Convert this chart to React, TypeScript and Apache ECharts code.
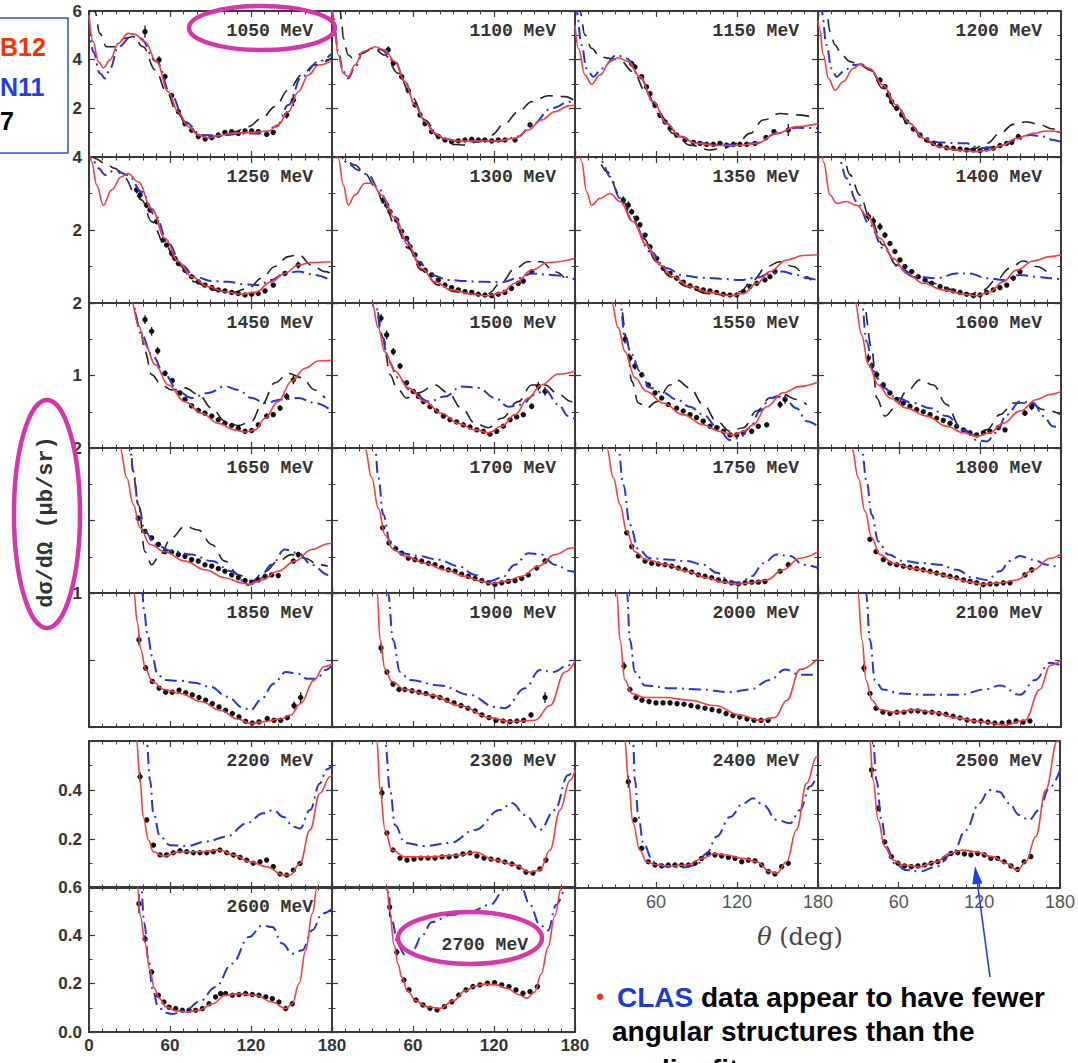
import React, { useEffect, useRef } from 'react';
import * as echarts from 'echarts';

type P = number[][];

// ---------- row 1 (0-6 µb/sr) ----------
const r1050: P = [[0,5.84],[3,4.74],[7,3.92],[10.6,3.67],[15.6,3.99],[21.7,4.67],[29,5.08],[34,5.04],[41.5,4.74],[50,3.92],[58.8,2.68],[66,1.86],[73.6,1.25],[81,0.9],[88,0.79],[96,0.88],[105.7,0.97],[120,1.01],[133,1.07],[140,1.32],[147.7,1.86],[155,2.68],[162.5,3.37],[170,3.78],[180,3.95]];
const b1050: P = [[0,5.49],[3.2,4.33],[8,3.44],[11.9,3.23],[15.6,3.64],[21.7,4.53],[31.6,4.95],[37.8,4.88],[50,3.92],[61,2.55],[71,1.45],[83.5,0.9],[96,0.88],[115.6,0.97],[128,0.97],[139,1.25],[147.7,2.14],[157.5,3.3],[170,3.92],[180,4.25]];
const k1050: P = [[3.5,6.3],[4.4,5.97],[8,5.08],[13,4.53],[19,4.53],[26.7,4.88],[32.8,4.95],[40,4.53],[49,3.58],[57.5,2.68],[65,1.86],[73.6,1.18],[83.5,0.84],[96,0.84],[108,1.04],[118,1.25],[128,1.59],[137.8,2.07],[147.7,2.75],[157.5,3.37],[167,3.78],[180,4.08]];
const d1050: P = [[41.5,5.15,0.25],[51.9,3.99,0.15],[56.3,3.3,0.12],[61.2,2.52,0.1],[66.2,1.86,0.08],[71.1,1.37,0.07],[76,1.1,0.06],[81,0.84,0.05],[86,0.74,0.05],[90.9,0.79,0.05],[95.8,0.9,0.05],[100.7,1.01,0.06],[105.7,1.04,0.06],[110.6,0.97,0.06],[115.6,1.07,0.06],[120.5,1.07,0.07],[125.4,1.04,0.07],[131.6,0.93,0.08],[136.5,1.01,0.1],[146.4,1.73,0.15],[151.4,2.34,0.25]];

const r1100: P = [[0,6.0],[1.5,5.4],[4.7,4.19],[8.4,3.44],[12,3.3],[17,3.78],[23,4.33],[31.9,4.53],[39,4.4],[46.7,3.92],[54,3.1],[61.5,2.14],[69,1.45],[76.3,0.97],[83.7,0.74],[93.6,0.66],[108,0.66],[123,0.66],[135.6,0.77],[145.4,1.11],[155,1.52],[165,1.86],[176,2.11],[180,2.15]];
const b1100: P = [[0,6.1],[1,5.7],[4.7,4.3],[8.4,3.5],[12,3.23],[17,3.7],[23,4.3],[29,4.47],[36,4.42],[46.7,3.92],[54,3.1],[61.5,2.14],[69,1.45],[76.3,0.97],[83.7,0.74],[93.6,0.66],[110,0.64],[125,0.66],[138,0.84],[148,1.32],[162.7,2.0],[176,2.27],[180,2.3]];
const k1100: P = [[6,6.2],[7,5.6],[8.4,4.88],[12,4.19],[15.8,4.05],[22,4.26],[30.6,4.47],[39,4.19],[49,3.44],[59,2.48],[69,1.52],[78.8,0.84],[88.6,0.52],[98.5,0.49],[108,0.63],[118,0.9],[128,1.38],[138,1.86],[148,2.27],[160,2.52],[172.6,2.48],[180,2.3]];
const d1100: P = [[41.7,4.4,0.15],[45.4,3.86,0.12],[51.6,3.3,0.1],[56.5,2.74,0.08],[61.5,2.14,0.07],[65.2,1.73,0.06],[68.9,1.37,0.05],[73.8,1.04,0.05],[78.8,0.84,0.04],[83.7,0.7,0.04],[88.6,0.63,0.04],[93.6,0.66,0.04],[98.5,0.7,0.04],[103.5,0.73,0.04],[108.4,0.7,0.04],[113.3,0.7,0.04],[118.3,0.66,0.04],[123.2,0.7,0.05],[128.1,0.7,0.05],[135.6,0.7,0.06],[146.7,1.32,0.1]];

const r1150: P = [[0,5.42],[2.5,4.47],[7.4,3.37],[12.3,2.99],[18.5,3.37],[26,3.92],[32,4.08],[39.5,3.92],[48,3.3],[58,2.27],[67.9,1.38],[77.8,0.84],[90,0.56],[105,0.47],[119.8,0.47],[134.6,0.56],[149.4,0.97],[164,1.25],[180,1.38]];
const b1150: P = [[0,6.3],[1.2,5.97],[4.9,4.6],[8.6,3.64],[13.6,3.3],[19.8,3.64],[30.9,4.19],[38.3,4.05],[48,3.3],[58,2.27],[67.9,1.38],[77.8,0.84],[90,0.58],[105,0.5],[119.8,0.5],[134.6,0.58],[149.4,0.97],[164,1.2],[180,1.18]];
const k1150: P = [[3,6.3],[3.7,5.97],[7.4,5.01],[12.3,4.47],[18.5,4.12],[26,4.05],[33,3.99],[43,3.51],[53,2.62],[63,1.73],[72.8,0.97],[85,0.49],[100,0.29],[110,0.36],[120,0.56],[129.6,0.97],[139.5,1.52],[151.9,1.79],[164,1.73],[180,1.59]];
const d1150: P = [[42,3.84,0.12],[44.4,3.7,0.12],[49.4,3.3,0.1],[53,2.88,0.08],[55.6,2.6,0.08],[59.3,2.12,0.07],[63,1.71,0.06],[66.7,1.44,0.05],[70.4,1.18,0.05],[75.3,0.9,0.04],[81.5,0.7,0.04],[87.7,0.6,0.04],[92.6,0.56,0.04],[97.5,0.52,0.04],[102.5,0.52,0.04],[107.4,0.56,0.04],[112.3,0.49,0.04],[117.3,0.52,0.04],[122.2,0.52,0.04],[127.2,0.52,0.04],[133.3,0.56,0.05],[141.5,0.8,0.06],[147.4,1.04,0.08],[158,1.11,0.25]];

const r1200: P = [[0,5.6],[1,5.29],[4,4.19],[7.7,3.23],[12.6,2.75],[18.8,3.1],[26,3.64],[31,3.81],[38.5,3.64],[48,2.96],[58,2.14],[68,1.38],[78,0.77],[90,0.42],[102.7,0.29],[117.5,0.22],[127,0.29],[137,0.49],[147,0.77],[159.5,0.97],[169,1.07],[180,1.04]];
const b1200: P = [[1.5,6.3],[2.7,5.97],[6.4,4.6],[10,3.64],[13.8,3.3],[18.8,3.51],[26,3.78],[32,3.81],[38.5,3.58],[48,2.96],[58,2.14],[68,1.38],[78,0.8],[90,0.6],[102,0.57],[110,0.56],[120,0.36],[132,0.42],[147,0.7],[157,0.9],[167,0.84],[174,0.7],[180,0.62]];
const k1200: P = [[5,6.5],[6.4,5.97],[8.9,5.15],[12.6,4.6],[17.5,4.19],[23.7,3.92],[31,3.78],[38.5,3.58],[48,2.82],[58,2.0],[68,1.25],[80.5,0.63],[92.8,0.36],[105,0.29],[115,0.33],[125,0.56],[134.8,0.97],[144.7,1.34],[154.6,1.45],[164.4,1.32],[174,1.15],[180,1.07]];
const d1200: P = [[45.9,3.16,0.12],[49.6,2.89,0.1],[52.1,2.55,0.08],[54.6,2.27,0.08],[58.3,2.0,0.07],[62,1.73,0.06],[65.7,1.45,0.05],[70.6,1.15,0.05],[75.6,0.9,0.04],[80.5,0.7,0.04],[85.4,0.56,0.04],[90.4,0.47,0.04],[95.3,0.38,0.03],[100.2,0.36,0.03],[105.2,0.33,0.03],[110.1,0.29,0.03],[115,0.29,0.03],[120,0.26,0.03],[125,0.33,0.03],[129.9,0.36,0.04],[134.8,0.47,0.04],[139.8,0.56,0.05],[143.5,0.6,0.05],[148.4,0.84,0.08]];

// ---------- row 2 (0-4) ----------
const r1250: P = [[0,4.3],[2,3.87],[5.7,3.23],[10.6,2.68],[16.8,3.1],[24,3.46],[29,3.55],[36.5,3.32],[46.4,2.59],[56.3,1.77],[66.2,1.13],[76,0.72],[88.4,0.45],[100.7,0.31],[113,0.24],[123,0.29],[135,0.58],[145,0.81],[155,1.04],[165,1.11],[180,1.13]];
const b1250: P = [[0,4.3],[2,3.98],[7,3.69],[11.9,3.51],[19,3.64],[29,3.51],[39,3.05],[48.9,2.41],[58.8,1.63],[68.6,1.04],[78.5,0.72],[90.9,0.6],[103,0.58],[115.6,0.51],[125.4,0.49],[135,0.63],[145,0.81],[155,0.86],[167,0.77],[180,0.6]];
const k1250: P = [[3,4.05],[4.4,3.96],[11.9,3.83],[19,3.69],[26.7,3.42],[34,3.0],[39,2.82],[46.4,2.23],[56.3,1.59],[66.2,1.04],[78.5,0.58],[90.9,0.36],[105.7,0.29],[118,0.4],[128,0.68],[137.8,1.0],[147.7,1.27],[155,1.33],[165,1.04],[174.8,0.86],[180,0.8]];
const d1250: P = [[35.3,3.1,0.1],[37.8,2.96,0.1],[42.7,2.68,0.08],[45.2,2.55,0.08],[50.1,2.23,0.07],[55.1,1.73,0.06],[57.5,1.59,0.05],[61.2,1.36,0.05],[63.7,1.22,0.04],[66.2,1.08,0.04],[71.1,0.9,0.03],[76,0.72,0.03],[81,0.58,0.03],[85.9,0.49,0.03],[90.9,0.42,0.03],[95.8,0.36,0.03],[100.7,0.33,0.03],[105.7,0.29,0.03],[110.6,0.26,0.03],[115.6,0.22,0.03],[120.5,0.24,0.03],[125.4,0.26,0.03],[130.4,0.33,0.03],[136.5,0.49,0.04],[145.2,0.81,0.06],[155,1.04,0.1]];

const r1300: P = [[2,4.4],[4.7,3.96],[8.4,3.23],[12,2.68],[17,2.96],[24.4,3.28],[29.4,3.28],[36.8,2.96],[46.7,2.32],[56.5,1.59],[66.4,0.95],[76.3,0.58],[88.6,0.36],[103.5,0.24],[115.8,0.2],[125.7,0.29],[135.6,0.54],[148,0.9],[160,1.11],[180,1.22]];
const b1300: P = [[5,4.3],[7,3.95],[13.3,3.78],[19.5,3.64],[27,3.51],[34.3,3.14],[44,2.5],[54,1.77],[64,1.13],[73.8,0.77],[86,0.63],[98.5,0.6],[113,0.58],[125.7,0.57],[138,0.68],[148,0.81],[162.7,0.77],[180,0.65]];
const k1300: P = [[6,4.3],[8.4,3.95],[17,3.78],[24.4,3.55],[31.9,3.19],[39,2.68],[46.7,2.14],[56.5,1.5],[66.4,0.9],[78.8,0.49],[91,0.31],[106,0.24],[115.8,0.26],[125.7,0.58],[135.6,0.95],[145.4,1.13],[155,1.13],[165,0.86],[172,0.7]];
const d1300: P = [[38,2.82,0.1],[40.5,2.68,0.1],[43,2.5,0.08],[47.9,2.27,0.07],[51.6,1.96,0.06],[55.3,1.77,0.06],[57.8,1.54,0.05],[61.5,1.32,0.05],[65.2,1.08,0.04],[68.9,0.9,0.04],[73.8,0.77,0.03],[78.8,0.63,0.03],[83.7,0.49,0.03],[88.6,0.42,0.03],[93.6,0.36,0.03],[98.5,0.31,0.03],[103.5,0.29,0.03],[108.4,0.24,0.03],[113.3,0.22,0.03],[118.3,0.2,0.03],[123.2,0.24,0.03],[128.1,0.29,0.03],[133,0.4,0.03],[138,0.54,0.04],[141.7,0.6,0.05],[147.9,0.86,0.06]];

const r1350: P = [[3,4.4],[4.9,3.87],[8.6,3.05],[12.3,2.68],[18.5,2.87],[26,3.0],[33.3,2.78],[43,2.23],[53,1.59],[63,1.04],[72.8,0.72],[85,0.45],[100,0.29],[114.8,0.2],[124.7,0.26],[134.6,0.54],[144.4,0.86],[156.8,1.18],[169,1.3],[180,1.32]];
const b1350: P = [[15,4.3],[19.8,3.87],[26,3.46],[33.3,2.87],[43,2.23],[55.6,1.41],[67.9,0.95],[80,0.75],[95,0.69],[110,0.66],[122,0.63],[134.6,0.69],[144.4,0.81],[154,0.86],[164,0.77],[172,0.68],[180,0.62]];
const k1350: P = [[13,4.3],[16,3.96],[23.5,3.6],[33.3,2.96],[40.7,2.5],[50.6,1.77],[60.5,1.13],[70.4,0.72],[82.7,0.45],[97.5,0.26],[112,0.22],[122,0.31],[132,0.63],[142,1.0],[151.9,1.13],[161.7,1.0],[171.6,0.72],[175,0.62]];
const d1350: P = [[35.8,2.82,0.1],[39.5,2.68,0.1],[42,2.5,0.08],[45.7,2.32,0.08],[48.1,2.14,0.07],[51.9,1.86,0.06],[55.6,1.54,0.05],[60.5,1.22,0.05],[65.4,0.95,0.04],[70.4,0.81,0.04],[75.3,0.68,0.03],[80.2,0.57,0.03],[85.2,0.47,0.03],[90.1,0.4,0.03],[95,0.36,0.03],[100,0.33,0.03],[104.9,0.29,0.03],[109.9,0.24,0.03],[114.8,0.22,0.03],[119.8,0.22,0.03],[124.7,0.31,0.03],[129.6,0.45,0.04],[134.6,0.54,0.04],[140.7,0.63,0.05],[144.4,0.72,0.06],[148.1,0.86,0.08]];

const r1400: P = [[2,4.5],[4,3.87],[8.9,2.96],[13.8,2.73],[21,2.78],[28.6,2.68],[36,2.41],[46,1.77],[55.8,1.22],[65.7,0.81],[78,0.54],[92.8,0.36],[107.7,0.24],[117.5,0.2],[127.4,0.31],[137,0.58],[147,0.9],[159.5,1.15],[171.9,1.27],[180,1.32]];
const b1400: P = [[14,4.3],[16.3,3.87],[21,3.42],[28.6,2.78],[38.5,2.14],[48.4,1.5],[60.7,0.95],[73,0.72],[87.9,0.68],[102.7,0.81],[112.6,0.81],[125,0.68],[137,0.63],[149.6,0.77],[162,0.72],[172,0.68],[180,0.65]];
const k1400: P = [[17,4.3],[18.8,3.96],[23.7,3.51],[31,2.96],[38.5,2.32],[48.4,1.59],[58.3,1.04],[70.6,0.72],[85.4,0.54],[100,0.36],[112.6,0.24],[122.5,0.36],[132,0.63],[142,0.95],[152,1.15],[162,1.0],[172,0.77]];
const d1400: P = [[37.3,2.37,0.12],[41,2.25,0.12],[45.9,2.09,0.1],[49.6,1.86,0.08],[53.3,1.63,0.07],[57,1.41,0.06],[60.7,1.18,0.05],[64.4,1.0,0.05],[69.4,0.86,0.04],[74.3,0.72,0.04],[79.3,0.63,0.03],[84.2,0.54,0.03],[90.4,0.45,0.03],[95.3,0.38,0.03],[100.2,0.33,0.03],[105.2,0.29,0.03],[110.1,0.24,0.03],[115.1,0.2,0.03],[120,0.22,0.03],[124.9,0.29,0.03],[129.9,0.36,0.03],[134.8,0.42,0.04],[139.8,0.49,0.04],[144.7,0.68,0.05],[149.6,0.86,0.07]];

// ---------- row 3 (0-2) ----------
const r1450: P = [[30,2.15],[31.6,2.02],[36.5,1.7],[41.5,1.43],[49,1.15],[58.8,0.87],[71,0.64],[83.5,0.48],[95.8,0.34],[108,0.25],[115.6,0.22],[123,0.25],[130.4,0.41],[140,0.64],[150,0.92],[160,1.1],[170,1.2],[180,1.21]];
const b1450: P = [[30,2.15],[31.6,2.02],[39,1.56],[46.4,1.29],[56.3,1.01],[66,0.78],[76,0.69],[88.4,0.76],[100.7,0.85],[110.6,0.8],[120.5,0.69],[130.4,0.62],[142.7,0.67],[155,0.69],[167.4,0.62],[180,0.51]];
const k1450: P = [[30,2.15],[31.6,2.02],[37.8,1.66],[41.5,1.33],[46.4,1.01],[53.8,0.87],[61,0.8],[71,0.83],[81,0.74],[90.9,0.55],[100.7,0.37],[110.6,0.31],[120.5,0.37],[128,0.6],[137.8,0.9],[147.7,1.03],[157.5,0.97],[167.4,0.8],[174.8,0.69]];
const d1450: P = [[41.5,1.77,0.06],[46.4,1.61,0.06],[50.9,1.34,0.05],[56.3,1.03,0.04],[61.7,0.93,0.03],[67.4,0.76,0.03],[71.1,0.67,0.03],[76,0.58,0.02],[81,0.52,0.02],[85.9,0.48,0.02],[90.9,0.44,0.02],[95.8,0.39,0.02],[100.7,0.34,0.02],[105.7,0.31,0.02],[110.6,0.27,0.02],[115.6,0.23,0.02],[120.5,0.24,0.02],[125.4,0.32,0.02],[131.6,0.44,0.03],[136.5,0.46,0.03],[141.5,0.55,0.04],[146.4,0.71,0.05],[151.4,0.94,0.06]];

const r1500: P = [[28,2.15],[29.4,2.02],[34.3,1.66],[39,1.33],[46.7,1.06],[56.5,0.83],[68.9,0.64],[81,0.48],[93.6,0.34],[106,0.25],[115.8,0.21],[125.7,0.3],[135.6,0.46],[145.4,0.69],[155,0.87],[167.7,1.02],[180,1.06]];
const b1500: P = [[30.5,2.15],[31.9,2.02],[36.8,1.56],[41.7,1.2],[49,0.97],[59,0.78],[71.4,0.64],[83.7,0.71],[96,0.85],[108.4,0.83],[120.7,0.69],[130.6,0.57],[140.5,0.6],[150.4,0.74],[157.8,0.8],[167.7,0.6],[175,0.44],[180,0.4]];
const k1500: P = [[30.5,2.15],[31.9,2.02],[38,1.52],[43,1.01],[48,0.83],[55.3,0.69],[64,0.76],[76.3,0.87],[86,0.76],[96,0.55],[106,0.34],[115.8,0.28],[125.7,0.41],[138,0.64],[148,0.87],[157.8,0.87],[167.7,0.74],[177.5,0.64],[180,0.62]];
const d1500: P = [[36.3,1.79,0.06],[40.5,1.56,0.06],[45.4,1.33,0.05],[50.4,1.13,0.04],[55.3,0.9,0.03],[60.2,0.78,0.03],[64,0.71,0.03],[67.7,0.64,0.02],[72.6,0.57,0.02],[77.5,0.51,0.02],[82.5,0.44,0.02],[87.4,0.39,0.02],[92.3,0.36,0.02],[97.3,0.32,0.02],[102.2,0.29,0.02],[107.2,0.25,0.02],[112.1,0.23,0.02],[117,0.19,0.02],[122,0.23,0.02],[126.9,0.3,0.02],[131.9,0.39,0.03],[136.8,0.43,0.03],[141.7,0.46,0.03],[147.9,0.575,0.04],[152.8,0.85,0.06],[157.8,0.78,0.06]];

const r1550: P = [[25.5,2.15],[27,2.02],[32,1.66],[37,1.33],[44.4,0.97],[53,0.78],[65.4,0.62],[80,0.46],[95,0.32],[107.4,0.23],[117.3,0.18],[124.7,0.23],[132,0.32],[142,0.57],[154,0.76],[166.7,0.85],[180,0.91]];
const b1550: P = [[32,2.15],[33.3,2.02],[37,1.52],[41.9,1.29],[48,1.06],[55.6,0.83],[65.4,0.76],[75.3,0.67],[85,0.57],[95,0.46],[104.9,0.3],[114.8,0.11],[122,0.14],[129.6,0.28],[137,0.51],[144.4,0.69],[154,0.71],[164,0.55],[171.6,0.37],[180,0.3]];
const k1550: P = [[32,2.15],[33.3,2.02],[38.3,1.52],[42,0.92],[47,0.62],[53,0.55],[60.5,0.64],[70.4,0.87],[75.3,0.94],[85,0.83],[95,0.6],[105,0.37],[114.8,0.23],[124.7,0.28],[134.6,0.51],[144.4,0.69],[154,0.74],[164,0.67],[171.6,0.6]];
const d1550: P = [[37,1.5,0.06],[40.7,1.24,0.05],[44.4,1.13,0.05],[49.4,1.01,0.04],[54.3,0.87,0.03],[59.3,0.76,0.03],[64.2,0.69,0.03],[69.1,0.6,0.02],[75.3,0.55,0.02],[80.2,0.51,0.02],[85.2,0.46,0.02],[90,0.42,0.02],[95,0.37,0.02],[100,0.3,0.02],[105,0.28,0.02],[110,0.23,0.02],[114.8,0.18,0.02],[119.8,0.18,0.02],[124.7,0.21,0.02],[130.9,0.23,0.02],[135.8,0.3,0.03],[142,0.32,0.03],[151.9,0.6,0.05],[155.6,0.67,0.06]];

const r1600: P = [[26,2.15],[27.4,2.02],[32.3,1.56],[37.3,1.15],[44.7,0.87],[53.3,0.69],[65.7,0.55],[80.5,0.44],[95.3,0.3],[107.7,0.21],[117.5,0.16],[127.4,0.21],[137,0.34],[149.6,0.51],[162,0.67],[171.9,0.74],[180,0.78]];
const b1600: P = [[31,2.15],[32.3,2.02],[36,1.47],[41,1.06],[48.4,0.83],[58.3,0.69],[70.6,0.62],[83,0.55],[95.3,0.44],[107.7,0.25],[117.5,0.11],[125,0.09],[132,0.21],[139.8,0.46],[149.6,0.64],[159.5,0.62],[167,0.44],[174,0.3],[180,0.25]];
const k1600: P = [[32,2.15],[33.6,2.02],[39.8,1.38],[43.5,0.69],[49.6,0.44],[57,0.55],[65.7,0.78],[75.6,0.94],[85.4,0.87],[95.3,0.6],[105,0.3],[115,0.18],[125,0.25],[134.8,0.46],[144.7,0.62],[157,0.62],[167,0.53],[180,0.46]];
const d1600: P = [[37.3,1.24,0.06],[39.8,1.13,0.05],[43.5,1.01,0.05],[48.4,0.87,0.04],[53.3,0.76,0.03],[58.3,0.67,0.03],[63.2,0.62,0.03],[68.1,0.575,0.02],[73.1,0.53,0.02],[78,0.5,0.02],[83,0.46,0.02],[87.9,0.41,0.02],[92.8,0.38,0.02],[97.8,0.34,0.02],[102.7,0.3,0.02],[107.7,0.25,0.02],[112.6,0.21,0.02],[117.5,0.18,0.02],[122.5,0.21,0.02],[127.4,0.23,0.02],[133.6,0.28,0.02],[138.5,0.25,0.02],[153.3,0.48,0.04],[158.3,0.57,0.05]];

// ---------- row 4 (0-2) ----------
const r1650: P = [[22,2.15],[23,2.0],[28,1.59],[32.8,1.22],[37.8,0.9],[45.2,0.67],[56.3,0.57],[71,0.44],[86,0.32],[100.7,0.21],[113,0.14],[119,0.12],[128,0.18],[140,0.3],[152.6,0.44],[165,0.6],[177,0.68],[180,0.69]];
const b1650: P = [[29.5,2.15],[30.4,2.0],[32.8,1.68],[36.5,1.22],[41.5,0.85],[48.9,0.67],[61,0.58],[76,0.53],[90.9,0.44],[105.7,0.3],[118,0.11],[125.4,0.18],[135.3,0.39],[145,0.6],[155,0.55],[165,0.39],[177,0.25],[180,0.24]];
const k1650: P = [[31,2.15],[32.8,1.63],[36.5,1.22],[41.5,0.57],[46.4,0.39],[52.6,0.53],[61,0.76],[71,0.92],[81,0.87],[90.9,0.67],[100.7,0.44],[110.6,0.25],[120.5,0.16],[130.4,0.3],[140,0.44],[150,0.53],[160,0.48],[170,0.39],[177,0.37]];
const d1650: P = [[36.5,1.03,0.04],[41.5,0.85,0.03],[46.4,0.76,0.03],[51.4,0.67,0.02],[56.3,0.57,0.02],[61.2,0.566,0.02],[66.2,0.53,0.02],[71.1,0.506,0.02],[76,0.46,0.02],[81,0.44,0.02],[85.9,0.39,0.02],[90.9,0.37,0.02],[95.8,0.336,0.02],[100.7,0.3,0.02],[105.7,0.25,0.02],[110.6,0.21,0.02],[115.6,0.17,0.02],[120.5,0.15,0.02],[125.4,0.18,0.02],[130.4,0.23,0.02],[135.3,0.25,0.02],[140.2,0.24,0.02],[151.4,0.44,0.03],[155,0.53,0.04]];

const r1700: P = [[23.5,2.15],[24.4,2.0],[29.4,1.59],[34.3,1.17],[39.3,0.8],[45.4,0.6],[54,0.51],[68.9,0.41],[83.7,0.32],[98.5,0.23],[110.9,0.16],[118.3,0.13],[128,0.16],[140.5,0.23],[152.8,0.37],[165,0.53],[177.5,0.62],[180,0.63]];
const b1700: P = [[31.5,2.15],[31.9,2.0],[34.3,1.59],[38,1.08],[43,0.71],[51.6,0.55],[64,0.51],[78.8,0.46],[93.6,0.37],[105.9,0.25],[115.8,0.16],[125.7,0.21],[135.6,0.39],[145.4,0.55],[155,0.53],[165,0.39],[177.5,0.3],[180,0.29]];
const d1700: P = [[37.5,0.9,0.03],[42.2,0.69,0.03],[47.2,0.61,0.02],[51.6,0.55,0.02],[56.5,0.48,0.02],[61.5,0.46,0.02],[66.4,0.44,0.02],[71.4,0.41,0.02],[76.3,0.39,0.02],[81.2,0.35,0.02],[86.2,0.32,0.02],[91.1,0.3,0.02],[96,0.26,0.02],[101,0.23,0.02],[105.9,0.2,0.02],[110.9,0.17,0.02],[115.8,0.14,0.02],[120.7,0.12,0.02],[125.7,0.14,0.02],[130.6,0.16,0.02],[135.6,0.17,0.02],[140.5,0.2,0.02],[145.4,0.25,0.02],[151.6,0.345,0.03],[157.8,0.44,0.04]];

const r1750: P = [[22.5,2.15],[23.5,2.0],[28.4,1.59],[33.3,1.22],[38.3,0.85],[44.4,0.57],[53,0.46],[67.9,0.39],[82.7,0.3],[97.5,0.21],[110,0.15],[119.8,0.12],[129.6,0.14],[142,0.18],[154,0.32],[166.7,0.48],[180,0.57]];
const b1750: P = [[31.5,2.15],[32,2.0],[35.8,1.49],[40.7,0.94],[47,0.6],[55.6,0.48],[70.4,0.46],[82.7,0.44],[95,0.39],[105,0.28],[114.8,0.16],[122,0.14],[130.9,0.23],[139.5,0.41],[149.4,0.53],[159.5,0.51],[169,0.39],[180,0.345]];
const d1750: P = [[38.3,0.83,0.03],[42,0.64,0.03],[46.9,0.51,0.02],[51.9,0.44,0.02],[56.8,0.41,0.02],[61.7,0.4,0.02],[66.7,0.39,0.02],[71.6,0.37,0.02],[76.5,0.345,0.02],[81.5,0.32,0.02],[86.4,0.29,0.02],[91.4,0.25,0.02],[96.3,0.23,0.02],[101.2,0.21,0.02],[106.2,0.18,0.02],[111.1,0.16,0.02],[116,0.14,0.02],[121,0.124,0.02],[126,0.14,0.02],[130.9,0.15,0.02],[135.8,0.15,0.02],[140.7,0.16,0.02],[151.9,0.3,0.03],[158,0.39,0.04]];

const r1800: P = [[24,2.15],[25,2.0],[29.9,1.59],[34.8,1.13],[39.8,0.76],[45.9,0.53],[55.8,0.41],[70.6,0.34],[85.4,0.28],[100.2,0.21],[112.6,0.15],[122.5,0.12],[134.8,0.14],[147,0.18],[159.5,0.32],[171.9,0.48],[180,0.54]];
const b1800: P = [[31.5,2.15],[32.3,2.0],[36,1.54],[39.8,1.08],[44.7,0.71],[52,0.53],[63.2,0.44],[78,0.41],[90.4,0.39],[102.7,0.32],[115,0.21],[125,0.18],[134.8,0.3],[142,0.44],[149.6,0.51],[159.5,0.46],[169.4,0.39],[174,0.37],[180,0.36]];
const d1800: P = [[38.5,0.74,0.03],[43,0.57,0.03],[48.4,0.46,0.02],[53.3,0.41,0.02],[58.3,0.39,0.02],[63.2,0.37,0.02],[68.1,0.354,0.02],[73.1,0.336,0.02],[78,0.32,0.02],[83,0.3,0.02],[87.9,0.276,0.02],[92.8,0.25,0.02],[97.8,0.23,0.02],[102.7,0.21,0.02],[107.7,0.18,0.02],[112.6,0.16,0.02],[117.5,0.14,0.02],[122.5,0.115,0.02],[127.4,0.124,0.02],[132.3,0.124,0.02],[137.3,0.14,0.02],[142.2,0.14,0.02],[153.3,0.25,0.03],[158.3,0.32,0.04]];

// ---------- row 5 (0-1) ----------
const r1850: P = [[32,1.2],[33.3,1.0],[35.8,0.78],[38.3,0.58],[42,0.43],[46.9,0.34],[55.6,0.28],[67.9,0.25],[82.7,0.19],[97.5,0.125],[110,0.06],[119.8,0.025],[129.6,0.04],[142,0.06],[149.4,0.09],[156.8,0.175],[166.7,0.35],[174,0.45],[180,0.47]];
const b1850: P = [[38.5,1.2],[39.5,1.0],[40.7,0.875],[43.2,0.7],[46.9,0.525],[50.6,0.4],[55.6,0.35],[67.9,0.345],[77.8,0.33],[90,0.3],[102.5,0.225],[114.8,0.14],[119.8,0.125],[127,0.2],[137,0.325],[145.7,0.41],[154.3,0.4],[161.7,0.36],[169,0.36],[175,0.425],[180,0.46]];
const d1850: P = [[37,0.65,0.04],[42,0.44,0.02],[46.9,0.34,0.015],[51.9,0.29,0.015],[56.8,0.26,0.015],[61.7,0.26,0.015],[66.7,0.275,0.015],[71.6,0.255,0.015],[76.5,0.24,0.015],[81.5,0.22,0.015],[86.4,0.2,0.015],[91.4,0.175,0.015],[96.3,0.15,0.015],[101.2,0.125,0.015],[106.2,0.1,0.015],[111.1,0.075,0.015],[116,0.043,0.015],[121,0.03,0.015],[125.9,0.038,0.015],[132,0.063,0.015],[137,0.05,0.015],[142,0.05,0.015],[146.9,0.07,0.02],[151.9,0.16,0.03],[156.8,0.22,0.04]];

const r1900: P = [[32.5,1.2],[33.5,1.0],[35.6,0.65],[39.3,0.43],[44.4,0.34],[54,0.28],[72.6,0.24],[94.8,0.16],[117,0.07],[131.9,0.04],[150.4,0.05],[161.5,0.16],[172.6,0.41],[180,0.49]];
const b1900: P = [[41,1.2],[41.5,1.0],[45.2,0.65],[50.4,0.41],[57.8,0.35],[80,0.31],[102,0.24],[120.7,0.15],[128,0.14],[143,0.29],[154,0.425],[163.7,0.41],[175,0.46],[180,0.5]];
const d1900: P = [[36.3,0.59,0.04],[40.7,0.41,0.02],[45.2,0.32,0.015],[49.6,0.28,0.015],[54,0.28,0.015],[59.3,0.27,0.015],[64.4,0.26,0.015],[69.6,0.25,0.015],[74.8,0.23,0.015],[80,0.22,0.015],[85.2,0.2,0.015],[90.4,0.18,0.015],[95.6,0.16,0.015],[100.7,0.14,0.015],[106,0.12,0.015],[111,0.09,0.015],[116.3,0.07,0.015],[121.5,0.05,0.015],[126.7,0.045,0.015],[131.9,0.04,0.015],[137,0.045,0.015],[142,0.05,0.015],[147.4,0.09,0.02],[157.8,0.22,0.04]];

const r2000: P = [[30,1.2],[31,1.0],[33.3,0.65],[37,0.35],[42,0.25],[51.9,0.22],[66.7,0.22],[85,0.2],[103.7,0.16],[122,0.09],[137,0.05],[148,0.07],[157,0.2],[166.7,0.43],[180,0.51]];
const b2000: P = [[38,1.2],[38.5,1.0],[40.7,0.65],[44.4,0.41],[51.9,0.31],[70.4,0.29],[92.6,0.28],[114.8,0.26],[129.6,0.28],[144.4,0.35],[155.6,0.43],[166.7,0.39],[177.8,0.39],[180,0.4]];
const d2000: P = [[36.3,0.455,0.03],[40.7,0.28,0.015],[45.2,0.22,0.015],[49.6,0.2,0.015],[54.8,0.19,0.015],[60,0.18,0.015],[65.2,0.18,0.015],[70.4,0.18,0.015],[75.6,0.175,0.015],[80.7,0.17,0.015],[85.9,0.16,0.015],[91,0.15,0.015],[96.3,0.14,0.015],[101.5,0.13,0.015],[106.7,0.12,0.015],[111.9,0.1,0.015],[117,0.085,0.015],[122,0.075,0.015],[127.4,0.06,0.015],[132.6,0.05,0.015],[137.8,0.05,0.015],[143,0.05,0.015]];

const r2100: P = [[29,1.2],[29.6,1.0],[32.6,0.65],[35.6,0.35],[40,0.2],[45.9,0.13],[57,0.11],[71.9,0.13],[86.7,0.11],[101.5,0.07],[120,0.04],[138.5,0.015],[153.3,0.05],[164.4,0.28],[171.9,0.46],[180,0.5]];
const b2100: P = [[35,1.2],[35.6,1.0],[38.5,0.65],[42.2,0.35],[48,0.28],[60.7,0.25],[82.9,0.24],[105,0.24],[123.7,0.28],[134.8,0.31],[149.6,0.24],[160.7,0.35],[171.9,0.48],[180,0.46]];
const d2100: P = [[34,0.44,0.03],[38.5,0.25,0.015],[43,0.14,0.01],[48.1,0.11,0.01],[53.3,0.1,0.01],[58.5,0.11,0.01],[63.7,0.11,0.01],[68.9,0.12,0.01],[74,0.12,0.01],[79.3,0.11,0.01],[84.4,0.11,0.01],[89.6,0.1,0.01],[94.8,0.095,0.01],[100,0.08,0.01],[105.2,0.067,0.01],[110.4,0.052,0.01],[115.6,0.045,0.01],[120.7,0.045,0.01],[125.9,0.037,0.01],[131,0.03,0.01],[136.3,0.03,0.01],[141.5,0.037,0.01],[146.7,0.045,0.01],[151.9,0.037,0.01],[157,0.045,0.01]];

// ---------- rows 6-7 (0-0.6) ----------
const r2200: P = [[34.5,0.75],[35.3,0.6],[37.8,0.44],[40.2,0.29],[44,0.196],[47.7,0.148],[55,0.13],[67.4,0.148],[82.2,0.148],[97,0.155],[107,0.135],[119.3,0.107],[131.6,0.087],[144,0.053],[149,0.053],[156.3,0.1],[163.7,0.237],[171,0.386],[178.5,0.454],[180,0.46]];
const b2200: P = [[42,0.75],[42.7,0.6],[45.2,0.44],[47.7,0.305],[52.6,0.21],[60,0.175],[72.3,0.171],[87.2,0.19],[102,0.21],[116.8,0.264],[129,0.305],[136.5,0.318],[144,0.29],[151.4,0.25],[156.3,0.243],[163.7,0.318],[171,0.427],[176,0.484],[180,0.5]];
const d2200: P = [[37.8,0.454,0.02],[42.7,0.278,0.01],[47.7,0.175,0.008],[52.6,0.135,0.006],[57.5,0.135,0.006],[62.5,0.144,0.006],[67.4,0.152,0.006],[72.3,0.148,0.006],[77.3,0.144,0.006],[82.2,0.144,0.006],[87.2,0.144,0.006],[92.1,0.148,0.006],[97,0.155,0.006],[102,0.144,0.006],[107,0.135,0.006],[111.9,0.125,0.006],[116.8,0.114,0.006],[121.7,0.101,0.006],[126.7,0.107,0.006],[131.6,0.114,0.006],[136.5,0.087,0.006],[141.5,0.057,0.006],[146.4,0.053,0.006],[151.4,0.073,0.008],[156.3,0.1,0.01]];

const r2300: P = [[32.5,0.75],[33.3,0.6],[35.6,0.4],[39.3,0.237],[44.4,0.155],[54,0.127],[72.6,0.127],[94.8,0.135],[106,0.147],[120.7,0.114],[135.6,0.094],[146.7,0.065],[154,0.073],[161.5,0.155],[168.9,0.318],[176.3,0.44],[180,0.48]];
const b2300: P = [[38.5,0.75],[39.3,0.6],[43,0.4],[46.7,0.257],[54,0.184],[68.9,0.171],[87.4,0.184],[106,0.237],[124.4,0.318],[133.3,0.347],[143,0.298],[154,0.237],[165,0.318],[174.8,0.46],[180,0.49]];
const d2300: P = [[37,0.388,0.025],[40.7,0.224,0.01],[45.2,0.155,0.008],[50.4,0.122,0.006],[55.6,0.114,0.006],[60.7,0.118,0.006],[65.9,0.122,0.006],[71.1,0.122,0.006],[76.3,0.122,0.006],[81.5,0.127,0.006],[86.7,0.127,0.006],[91.9,0.131,0.006],[97,0.139,0.006],[102.2,0.143,0.006],[107.4,0.131,0.006],[112.6,0.122,0.006],[117.8,0.118,0.006],[123,0.114,0.006],[128.1,0.106,0.006],[133.3,0.098,0.006],[138.5,0.085,0.006],[143.7,0.065,0.006],[148.9,0.061,0.006],[154,0.078,0.008],[158.5,0.114,0.01]];

const r2400: P = [[36,0.75],[37,0.6],[39.5,0.44],[43,0.264],[48,0.155],[53,0.107],[60.5,0.094],[70.4,0.09],[82.7,0.094],[95,0.121],[102.5,0.141],[112,0.135],[124.7,0.121],[134.6,0.107],[144.4,0.067],[149.4,0.06],[156.8,0.107],[164,0.237],[171.6,0.427],[179,0.536],[180,0.54]];
const b2400: P = [[42.3,0.75],[43,0.6],[44.4,0.44],[47,0.29],[50.6,0.182],[58,0.107],[67.9,0.087],[80.2,0.084],[90,0.094],[97.5,0.141],[105,0.21],[114.8,0.29],[124.7,0.346],[132,0.366],[139.5,0.339],[149.4,0.278],[159.3,0.264],[166.7,0.318],[174,0.414],[180,0.468]];
const d2400: P = [[39.5,0.434,0.025],[44.4,0.278,0.01],[49.4,0.162,0.008],[54.3,0.107,0.006],[59.3,0.094,0.006],[64.2,0.09,0.006],[69.1,0.094,0.006],[74,0.094,0.006],[79,0.094,0.006],[84,0.094,0.006],[88.9,0.101,0.006],[93.8,0.121,0.006],[98.8,0.139,0.006],[103.7,0.135,0.006],[108.6,0.131,0.006],[113.6,0.125,0.006],[118.5,0.121,0.006],[123.5,0.107,0.006],[128.4,0.114,0.006],[133.3,0.111,0.006],[138.3,0.094,0.006],[143.2,0.067,0.006],[148.1,0.057,0.006],[153.1,0.087,0.008],[158,0.101,0.01]];

const r2500: P = [[37.5,0.75],[38.5,0.6],[41,0.44],[44.7,0.278],[49.6,0.169],[55.8,0.114],[63.2,0.094],[75.6,0.087],[87.9,0.107],[97.8,0.141],[107.7,0.155],[117.5,0.148],[129.9,0.128],[139.8,0.101],[148.4,0.073],[154.6,0.107],[162,0.21],[169.4,0.4],[178,0.6],[180,0.65]];
const b2500: P = [[40,0.75],[41,0.6],[43.5,0.44],[47.2,0.278],[50.9,0.169],[57,0.101],[65.7,0.073],[75.6,0.067],[87.9,0.087],[100.2,0.141],[110,0.237],[120,0.346],[127.4,0.4],[134.8,0.393],[142.2,0.346],[149.6,0.298],[157,0.278],[164.4,0.318],[171.9,0.407],[180,0.48]];
const d2500: P = [[39.8,0.482,0.03],[44.7,0.325,0.012],[49.6,0.188,0.008],[54.6,0.128,0.006],[59.5,0.101,0.006],[64.4,0.09,0.006],[69.4,0.087,0.006],[74.3,0.09,0.006],[79.3,0.094,0.006],[84.2,0.101,0.006],[89.1,0.107,0.006],[94,0.121,0.006],[99,0.141,0.006],[103.9,0.144,0.006],[108.9,0.139,0.006],[113.8,0.135,0.006],[118.8,0.141,0.006],[123.7,0.135,0.006],[128.6,0.121,0.006],[133.6,0.121,0.006],[138.5,0.107,0.006],[143.5,0.09,0.006],[148.4,0.076,0.006],[153.3,0.107,0.008],[158.3,0.128,0.01]];

const r2600: P = [[35,0.75],[36,0.6],[38,0.48],[41.5,0.37],[45,0.26],[48.5,0.18],[52,0.14],[57,0.105],[64,0.088],[72,0.083],[81.5,0.09],[91.4,0.117],[101.2,0.152],[111,0.159],[123.5,0.152],[135.8,0.124],[145.7,0.097],[150.6,0.117],[155.6,0.2],[160.5,0.338],[165.4,0.49],[169,0.6],[171,0.68]];
const b2600: P = [[37.5,0.75],[38.5,0.6],[41,0.45],[44,0.3],[47,0.18],[51,0.11],[56,0.08],[62,0.075],[71.6,0.09],[81.5,0.124],[93.8,0.186],[106,0.283],[118.5,0.393],[128.4,0.441],[135.8,0.434],[143.2,0.366],[150.6,0.324],[158,0.338],[165.4,0.421],[172.8,0.49],[180,0.51]];
const d2600: P = [[37,0.531,0.04],[41.5,0.386,0.015],[46.4,0.248,0.01],[51.4,0.152,0.008],[55.5,0.124,0.006],[59.3,0.103,0.006],[64.2,0.097,0.006],[69.1,0.09,0.006],[74.1,0.09,0.006],[79,0.09,0.006],[84,0.097,0.006],[88.9,0.117,0.006],[93.8,0.145,0.006],[97.5,0.159,0.006],[101.2,0.159,0.006],[106.2,0.152,0.006],[111.1,0.155,0.006],[116,0.159,0.006],[121,0.155,0.006],[125.9,0.152,0.006],[130.9,0.145,0.006],[135.8,0.138,0.006],[140.7,0.124,0.006],[145.7,0.097,0.008],[150.6,0.117,0.01]];

const r2700: P = [[39.5,0.75],[40.7,0.6],[42.7,0.5],[46,0.36],[49,0.28],[51.6,0.228],[56,0.17],[62,0.13],[70,0.105],[80,0.098],[90,0.13],[98.5,0.17],[106,0.19],[113,0.198],[121,0.196],[130,0.18],[138,0.155],[144.4,0.14],[150,0.165],[155,0.24],[160,0.35],[165,0.48],[170,0.6],[172,0.66]];
const b2700: P = [[40,0.75],[40.7,0.6],[44.4,0.46],[48.9,0.36],[54,0.32],[60,0.34],[66.7,0.4],[74,0.455],[87.4,0.484],[102,0.497],[117,0.526],[128,0.59],[133.3,0.62],[139,0.62],[146.7,0.526],[154,0.443],[160,0.42],[166,0.526],[172.6,0.61]];
const d2700: P = [[42.7,0.517,0.04],[48,0.33,0.015],[53.3,0.215,0.01],[57,0.174,0.008],[62.2,0.132,0.006],[67.4,0.112,0.006],[72.6,0.098,0.006],[77.8,0.091,0.006],[83.3,0.105,0.006],[88.7,0.125,0.006],[93.9,0.153,0.006],[99.3,0.174,0.006],[104.4,0.188,0.006],[109.6,0.195,0.006],[115.1,0.202,0.006],[120.4,0.204,0.006],[125.7,0.195,0.006],[131.1,0.188,0.006],[136.3,0.174,0.006],[141.5,0.16,0.008],[146.7,0.167,0.008],[152.2,0.188,0.01]];

// ---------- panel tables ----------
const ENERGIES = ['1050','1100','1150','1200','1250','1300','1350','1400','1450','1500','1550','1600','1650','1700','1750','1800','1850','1900','2000','2100','2200','2300','2400','2500','2600','2700'];
const RED = [r1050,r1100,r1150,r1200,r1250,r1300,r1350,r1400,r1450,r1500,r1550,r1600,r1650,r1700,r1750,r1800,r1850,r1900,r2000,r2100,r2200,r2300,r2400,r2500,r2600,r2700];
const BLUE = [b1050,b1100,b1150,b1200,b1250,b1300,b1350,b1400,b1450,b1500,b1550,b1600,b1650,b1700,b1750,b1800,b1850,b1900,b2000,b2100,b2200,b2300,b2400,b2500,b2600,b2700];
const BLACK: (P | null)[] = [k1050,k1100,k1150,k1200,k1250,k1300,k1350,k1400,k1450,k1500,k1550,k1600,k1650];
const POINTS = [d1050,d1100,d1150,d1200,d1250,d1300,d1350,d1400,d1450,d1500,d1550,d1600,d1650,d1700,d1750,d1800,d1850,d1900,d2000,d2100,d2200,d2300,d2400,d2500,d2600,d2700];

const ROW_MAX = [6, 4, 2, 2, 1, 0.6, 0.6];
const ROW_STEP = [2, 2, 1, 1, 0.5, 0.2, 0.2];
const ROW_MINOR = [2, 2, 2, 2, 0, 2, 2];
const Y_LABELS = [['6','4','2'], ['4','2'], ['2','1'], ['2'], ['1'], ['0.4','0.2'], ['0.6','0.4','0.2','0.0']];
const X_LABELS: Record<number, string[]> = { 22: ['60','120','180'], 23: ['60','120','180'], 24: ['0','60','120','180'], 25: ['60','120','180'] };

// layout (pixels)
const COL_X = [89, 332, 575, 818];
const PW = 243;
const ROW_Y = [11, 157, 303, 448, 593, 741, 887];
const ROW_H = [146, 146, 145, 145, 134, 147, 145];

const AX = '#3a3a3a';
const MID = { align: 'left', verticalAlign: 'middle', textAlign: 'left', textVerticalAlign: 'middle' };
const CEN = { align: 'center', verticalAlign: 'middle', textAlign: 'center', textVerticalAlign: 'middle' };

function buildOption() {
  const grid: any[] = [];
  const xAxis: any[] = [];
  const yAxis: any[] = [];
  const series: any[] = [];
  const graphic: any[] = [];

  ENERGIES.forEach((e, i) => {
    const row = Math.floor(i / 4);
    const col = i % 4;
    grid.push({ left: COL_X[col], top: ROW_Y[row], width: PW, height: ROW_H[row], show: false });
    const axisLine = { show: true, onZero: false, lineStyle: { color: AX, width: 2 } };
    const tick = { show: true, inside: true, length: 6, lineStyle: { color: AX, width: 1.2 } };
    const xl = X_LABELS[i];
    const bold = i >= 24;
    const xBase = {
      type: 'value', gridIndex: i, min: 0, max: 180, interval: 60,
      axisLine, axisTick: tick,
      minorTick: { show: true, splitNumber: 6, length: 3.5, lineStyle: { color: AX, width: 1 } },
      splitLine: { show: false }, minorSplitLine: { show: false },
    };
    xAxis.push({
      ...xBase, position: 'bottom',
      axisLabel: xl ? {
        show: true, margin: 5, color: bold ? '#333' : '#555', fontSize: bold ? 17 : 18,
        fontWeight: bold ? 'bold' : 'normal', fontFamily: 'Liberation Sans',
        formatter: (v: number) => { const s = String(Math.round(v)); return xl.includes(s) ? s : ''; },
      } : { show: false },
    });
    xAxis.push({ ...xBase, position: 'top', axisLabel: { show: false } });

    const lbls = Y_LABELS[row];
    const yBase = {
      type: 'value', gridIndex: i, min: 0, max: ROW_MAX[row], interval: ROW_STEP[row],
      axisLine, axisTick: tick,
      minorTick: { show: ROW_MINOR[row] > 0, splitNumber: ROW_MINOR[row] || 1, length: 3.5, lineStyle: { color: AX, width: 1 } },
      splitLine: { show: false }, minorSplitLine: { show: false },
    };
    yAxis.push({
      ...yBase, position: 'left',
      axisLabel: col === 0 ? {
        show: true, margin: 7, color: '#333', fontSize: 17, fontWeight: 'bold', fontFamily: 'Liberation Sans',
        formatter: (v: number) => {
          const s = row >= 5 ? v.toFixed(1) : String(Math.round(v * 1000) / 1000);
          return lbls.includes(s) ? s : '';
        },
      } : { show: false },
    });
    yAxis.push({ ...yBase, position: 'right', axisLabel: { show: false } });

    const xi = 2 * i;
    const k = BLACK[i];
    if (k) {
      series.push({
        type: 'line', xAxisIndex: xi, yAxisIndex: xi, data: k, smooth: 0.4, smoothMonotone: 'x',
        symbol: 'none', silent: true, clip: true,
        lineStyle: { color: '#222', width: 1.6, type: [13, 8] },
      });
    }
    series.push({
      type: 'line', xAxisIndex: xi, yAxisIndex: xi, data: BLUE[i], smooth: 0.4, smoothMonotone: 'x',
      symbol: 'none', silent: true, clip: true,
      lineStyle: { color: '#2236e0', width: 2, type: [12, 5, 2, 5] },
    });
    series.push({
      type: 'line', xAxisIndex: xi, yAxisIndex: xi, data: RED[i], smooth: 0.4, smoothMonotone: 'x',
      symbol: 'none', silent: true, clip: true,
      lineStyle: { color: '#ff3a3a', width: 1.6 },
    });
    series.push({
      type: 'custom', coordinateSystem: 'cartesian2d', xAxisIndex: xi, yAxisIndex: xi,
      data: POINTS[i], encode: { x: 0, y: 1 }, silent: true,
      renderItem: (_p: any, api: any) => {
        const x = api.value(0), y = api.value(1), er = api.value(2);
        const c = api.coord([x, y]);
        const t = api.coord([x, y + er]);
        const b = api.coord([x, y - er]);
        return {
          type: 'group',
          children: [
            { type: 'line', shape: { x1: c[0], y1: t[1], x2: c[0], y2: b[1] }, style: { stroke: '#111', lineWidth: 1.3 } },
            { type: 'circle', shape: { cx: c[0], cy: c[1], r: 2.7 }, style: { fill: '#111' } },
          ],
        };
      },
    });

    // energy label
    const lx = i === 25 ? 528 : COL_X[col] + PW - 19;
    const ly = i === 25 ? 945 : ROW_Y[row] + 20;
    graphic.push({
      type: 'text', x: lx, y: ly, z: 60,
      style: { text: `${e} MeV`, font: 'bold 18px "Liberation Mono"', fill: '#333', align: 'right', verticalAlign: 'middle', textAlign: 'right', textVerticalAlign: 'middle' },
    });
  });

  const mag = '#d636aa';
  graphic.push(
    // legend box (cropped at the left edge)
    { type: 'rect', z: 50, shape: { x: -2, y: 18, width: 70, height: 135 }, style: { fill: '#fff', stroke: '#2a55d8', lineWidth: 1.5 } },
    { type: 'text', z: 51, x: 0, y: 47, style: { text: 'B12', font: 'bold 25px "Liberation Sans"', fill: '#ff3000', ...MID } },
    { type: 'text', z: 51, x: 0, y: 87, style: { text: 'N11', font: 'bold 25px "Liberation Sans"', fill: '#1f3fe6', ...MID } },
    { type: 'text', z: 51, x: 0, y: 121, style: { text: '7', font: 'bold 25px "Liberation Sans"', fill: '#000', ...MID } },
    // y axis title
    { type: 'text', z: 51, x: 46, y: 522, rotation: Math.PI / 2, style: { text: 'dσ/dΩ (μb/sr)', font: 'bold 22px "Liberation Mono"', fill: '#333', ...CEN } },
    // x axis title
    {
      type: 'text', z: 51, x: 800, y: 937,
      style: {
        text: '{i|θ} (deg)', font: '24px "DejaVu Serif"', fill: '#444', ...CEN,
        rich: { i: { fontStyle: 'italic', fontSize: 24, fontFamily: 'DejaVu Serif', fill: '#444' } },
      },
    },
    // ellipses
    { type: 'ellipse', z: 70, shape: { cx: 262, cy: 28, rx: 73, ry: 22 }, style: { fill: 'none', stroke: mag, lineWidth: 4.5 } },
    { type: 'ellipse', z: 70, shape: { cx: 47, cy: 514, rx: 33, ry: 114 }, style: { fill: 'none', stroke: mag, lineWidth: 4.5 } },
    { type: 'ellipse', z: 70, shape: { cx: 470, cy: 938, rx: 72, ry: 26 }, style: { fill: 'none', stroke: mag, lineWidth: 4.5 } },
    // annotation
    { type: 'text', z: 51, x: 600, y: 996, style: { text: '•', font: 'bold 22px "Liberation Sans"', fill: '#ff2a1a', ...CEN } },
    {
      type: 'text', z: 51, x: 617, y: 997,
      style: {
        text: '{b|CLAS} data appear to have fewer', font: 'bold 28px "Liberation Sans"', fill: '#000', ...MID,
        rich: { b: { fill: '#1a3cd0', fontSize: 28, fontWeight: 'bold', fontFamily: 'Liberation Sans' } },
      },
    },
    { type: 'text', z: 51, x: 612, y: 1031, style: { text: 'angular structures than the', font: 'bold 28px "Liberation Sans"', fill: '#000', ...MID } },
    { type: 'text', z: 51, x: 620, y: 1069, style: { text: 'earlier fits', font: 'bold 28px "Liberation Sans"', fill: '#000', ...MID } },
    // arrow
    { type: 'line', z: 60, shape: { x1: 990, y1: 977, x2: 977.4, y2: 883 }, style: { stroke: '#1f3fe6', lineWidth: 1.6 } },
    { type: 'polygon', z: 60, shape: { points: [[975, 866], [972.3, 884.5], [982.4, 883.2]] }, style: { fill: '#1f3fe6' } },
  );

  return { animation: false, backgroundColor: '#fff', grid, xAxis, yAxis, series, graphic };
}

export default function App() {
  const ref = useRef<HTMLDivElement>(null);
  useEffect(() => {
    if (!ref.current) return;
    const chart = echarts.init(ref.current, undefined, { renderer: 'svg' });
    chart.setOption(buildOption() as any);
    return () => chart.dispose();
  }, []);
  return <div ref={ref} style={{ position: 'absolute', left: 0, top: 0, width: 1078, height: 1063, background: '#fff' }} />;
}
